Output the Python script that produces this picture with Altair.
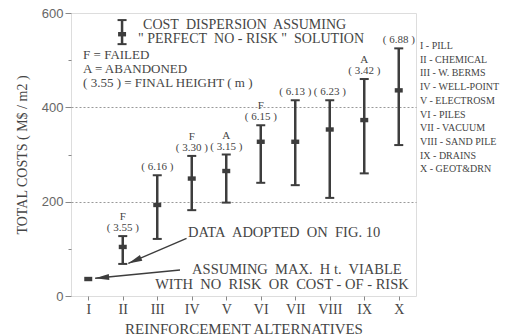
import math
import altair as alt
import pandas as pd

# Reinforcement alternatives and their cost dispersion (M$/m2)
alternatives = ["I", "II", "III", "IV", "V", "VI", "VII", "VIII", "IX", "X"]
methods = ["PILL", "CHEMICAL", "W. BERMS", "WELL-POINT", "ELECTROSM",
           "PILES", "VACUUM", "SAND PILE", "DRAINS", "GEOT&DRN"]
cost_low = [None, 68, 121, 182, 198, 240, 235, 208, 260, 320]
cost_mid = [36, 104, 193, 249, 265, 327, 327, 353, 373, 436]
cost_high = [None, 127, 256, 297, 300, 362, 415, 415, 460, 525]
outcome = ["", "F", "", "F", "A", "F", "", "", "A", ""]
final_height = [None, 3.55, 6.16, 3.30, 3.15, 6.15, 6.13, 6.23, 3.42, 6.88]

W, H = 345, 283
X_DOMAIN = [0.5, 10.5]
Y_DOMAIN = [0, 600]
INK = "#3d3d3d"
TEXT = "#454545"
SERIF = "Liberation Serif"
SP = "\u00a0"  # non-collapsing space for the wide-set notes

df = pd.DataFrame({
    "idx": list(range(1, len(alternatives) + 1)),
    "key": [f"{a} - {m}" for a, m in zip(alternatives, methods)],
    "low": cost_low,
    "mid": cost_mid,
    "high": cost_high,
    "outcome": outcome,
    "height": [f"( {h:.2f} )" if h else "" for h in final_height],
})

xscale = alt.Scale(domain=X_DOMAIN, nice=False, zero=False)
yscale = alt.Scale(domain=Y_DOMAIN, nice=False)

x_axis = alt.Axis(
    values=list(range(1, 11)),
    labelExpr=f"{alternatives}[datum.value - 1]",
    title="REINFORCEMENT ALTERNATIVES",
    titleFont=SERIF, titleFontSize=15, titleFontWeight="normal",
    titleColor=TEXT, titlePadding=5,
    labelFont=SERIF, labelFontSize=14, labelColor=TEXT, labelPadding=2,
    tickSize=4, tickColor="#888", domain=False, grid=False,
)
y_axis = alt.Axis(
    values=[0, 100, 200, 300, 400, 500, 600],
    labelExpr="datum.value % 200 === 0 ? datum.label : ''",
    title="TOTAL COSTS  ( M$ / m2 )",
    titleFont=SERIF, titleFontSize=14, titleFontWeight="normal",
    titleColor=TEXT, titlePadding=12,
    labelFont="Liberation Sans", labelFontSize=13, labelColor="#666",
    labelPadding=2,
    tickSize={"condition": {"test": "datum.value % 200 === 0", "value": 6}, "value": 3},
    tickColor="#888", domain=False,
    grid=True, gridColor="#999", gridDash=[2, 2], gridWidth=1,
    gridOpacity={"condition": {"test": "datum.value === 200 || datum.value === 400",
                               "value": 1}, "value": 0},
)


def Xn(field="idx"):
    return alt.X(f"{field}:Q", scale=xscale, axis=x_axis)


def Yn(field):
    return alt.Y(f"{field}:Q", scale=yscale, axis=y_axis)


base = alt.Chart(df)

bars = base.mark_rule(color=INK, strokeWidth=2.5).encode(
    x=Xn(), y=Yn("low"), y2="high:Q")
cap_lo = base.mark_tick(orient="horizontal", size=9, thickness=2, color=INK,
                        opacity=1).encode(x=Xn(), y=Yn("low"))
cap_hi = base.mark_tick(orient="horizontal", size=9, thickness=2, color=INK,
                        opacity=1).encode(x=Xn(), y=Yn("high"))
marker = base.mark_point(shape="M-1,-0.55H1V0.55H-1Z", filled=True, size=64,
                         color=INK, opacity=1).encode(x=Xn(), y=Yn("mid"))
h_label = base.mark_text(font=SERIF, fontSize=11, color=TEXT, dy=-5,
                         baseline="alphabetic").encode(
    x=Xn(), y=Yn("high"), text="height:N")
o_label = base.mark_text(font=SERIF, fontSize=11, color=TEXT, dy=-16,
                         baseline="alphabetic").encode(
    x=Xn(), y=Yn("high"), text="outcome:N")

# Method names listed to the right of the frame
names = base.mark_point(opacity=0).encode(
    x=Xn(), y=Yn("mid"),
    color=alt.Color("key:N", sort=list(df["key"]),
                    scale=alt.Scale(range=["#444"]),
                    legend=alt.Legend(
                        orient="none", legendX=339, legendY=28, title=None,
                        symbolSize=0, symbolOpacity=0, symbolStrokeWidth=0,
                        labelOffset=0, labelFont=SERIF, labelFontSize=10,
                        labelColor=TEXT, rowPadding=3.7, padding=0,
                        labelLimit=200)),
)

# Key for the dispersion symbol
key_bar = pd.DataFrame({"x": [1.98], "lo": [534], "mid": [555], "hi": [585]})
kb = alt.Chart(key_bar)
key_layers = [
    kb.mark_rule(color=INK, strokeWidth=2.5).encode(x=Xn("x"), y=Yn("lo"), y2="hi:Q"),
    kb.mark_tick(orient="horizontal", size=9, thickness=2, color=INK, opacity=1)
      .encode(x=Xn("x"), y=Yn("lo")),
    kb.mark_tick(orient="horizontal", size=9, thickness=2, color=INK, opacity=1)
      .encode(x=Xn("x"), y=Yn("hi")),
    kb.mark_point(shape="M-1,-0.55H1V0.55H-1Z", filled=True, size=64, color=INK,
                  opacity=1).encode(x=Xn("x"), y=Yn("mid")),
]


def wide(s):
    return s.replace("  ", SP + " ")


key_notes = pd.DataFrame({
    "x": [0.85, 0.85, 0.85],
    "y": [511, 481, 452],
    "text": ["F = FAILED", "A = ABANDONED", "( 3.55 ) = FINAL  HEIGHT ( m )"],
})
key_title = pd.DataFrame({
    "x": [2.59, 2.44],
    "y": [575, 545],
    "text": [wide(t) for t in ["COST  DISPERSION  ASSUMING",
                               '" PERFECT  NO - RISK "  SOLUTION']],
})
arrow_notes = pd.DataFrame({
    "x": [3.89, 4.01, 2.94],
    "y": [134, 55, 23],
    "text": [wide(t) for t in [
        "DATA  ADOPTED  ON  FIG. 10",
        "ASSUMING  MAX.  H t.  VIABLE",
        "WITH  NO  RISK  OR  COST - OF - RISK"]],
})
key_text = alt.Chart(key_notes).mark_text(
    font=SERIF, fontSize=13, color=TEXT, align="left", baseline="middle"
).encode(x=Xn("x"), y=Yn("y"), text="text:N")
title_text = alt.Chart(key_title).mark_text(
    font=SERIF, fontSize=14, color=TEXT, align="left", baseline="middle"
).encode(x=Xn("x"), y=Yn("y"), text="text:N")
arrow_text = alt.Chart(arrow_notes).mark_text(
    font=SERIF, fontSize=14.5, color=TEXT, align="left", baseline="middle"
).encode(x=Xn("x"), y=Yn("y"), text="text:N")

# Arrows pointing at alternatives I and II
arrows = pd.DataFrame({
    "x": [3.85, 3.66], "y": [122, 55],
    "x2": [2.16, 1.20], "y2": [69, 37.5],
})
px_x = W / (X_DOMAIN[1] - X_DOMAIN[0])
px_y = H / (Y_DOMAIN[1] - Y_DOMAIN[0])
arrows["angle"] = [
    math.degrees(math.atan2((b - a) * px_x, (d - c) * px_y)) % 360
    for a, b, c, d in zip(arrows.x, arrows.x2, arrows.y, arrows.y2)
]
ar = alt.Chart(arrows)
arrow_line = ar.mark_rule(color=INK, strokeWidth=1.4).encode(
    x=Xn("x"), y=Yn("y"), x2="x2:Q", y2="y2:Q")
arrow_head = ar.mark_point(shape="M0,0L-0.22,1L0.22,1Z", filled=True, size=784,
                           color=INK, opacity=1).encode(
    x=Xn("x2"), y=Yn("y2"), angle=alt.Angle("angle:Q", scale=None))

chart = alt.layer(
    bars, cap_lo, cap_hi, marker, h_label, o_label, names,
    *key_layers, key_text, title_text, arrow_text, arrow_line, arrow_head,
).properties(
    width=W, height=H,
    padding={"left": 71, "top": 13, "right": 91, "bottom": 40},
    autosize=alt.AutoSizeParams(type="none"),
).configure_view(stroke="#8a8a8a", strokeWidth=1).configure(background="white")

chart.save("out.html", embed_options={"renderer": "svg", "actions": False})
